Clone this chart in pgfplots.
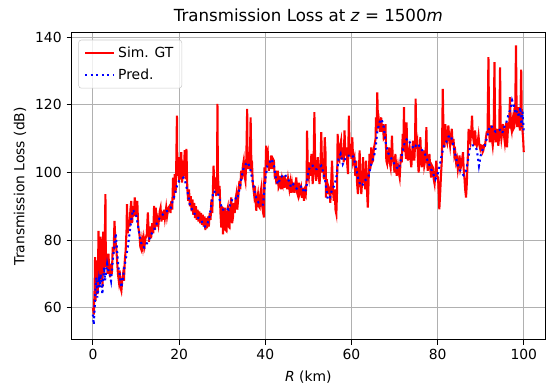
\documentclass[border=0pt]{standalone}
\usepackage{fontspec}
\setmainfont{DejaVu Sans}
\usepackage{pgfplots}
\pgfplotsset{compat=1.18}
\definecolor{gridgray}{HTML}{B0B0B0}
\definecolor{legendedge}{HTML}{CCCCCC}
\begin{document}
\begin{tikzpicture}
\path[use as bounding box] (-51.4pt,-31.1pt) rectangle (341.7pt,244.7pt);
\begin{axis}[
  scale only axis, width=341.2pt, height=221.1pt,
  at={(0pt,0pt)}, anchor=south west,
  xmin=-5, xmax=105, ymin=50.5, ymax=141.3,
  xtick={0,20,...,100}, ytick={60,80,...,140},
  tick pos=left, tick align=outside, major tick length=3.5pt,
  every tick/.style={black, line width=0.8pt},
  axis line style={line width=0.8pt},
  grid=major, major grid style={gridgray, line width=0.8pt},
  tick label style={font=\fontsize{10}{12}\selectfont},
  /pgf/number format/assume math mode=true,
  label style={font=\fontsize{10}{12}\selectfont},
  xlabel={\textit{R} (km)},
  ylabel={Transmission Loss (dB)},
  x label style={at={(axis description cs:0.5,-0.121)}, anchor=center},
  y label style={at={(axis description cs:-0.1085,0.5)}, anchor=center},
  every axis title shift=0pt,
  title={Transmission Loss at \textit{z} = 1500\textit{m}},
  title style={font=\fontsize{12}{14}\selectfont, at={(axis description cs:0.5,1.0576)}, anchor=center},
  legend cell align=left,
  legend style={at={(axis description cs:0,1)}, xshift=5pt, yshift=-5pt, anchor=north west,
    draw=legendedge, rounded corners=2pt, fill=white, fill opacity=0.8, text opacity=1,
    font=\fontsize{10}{12}\selectfont, row sep=2.5pt, inner xsep=4pt, inner ysep=3pt},
  legend image code/.code={\draw[#1] (0pt,0pt) -- (21pt,0pt);},
]
% simulated ground truth
\addplot[red, line width=1.5pt] coordinates {
(0,60)(0.2,58)(0.4,66)(0.5,75)(0.6,62)(0.8,70)(1,74)(1.1,64)(1.3,82.7)(1.4,66)(1.6,72)(1.8,81)(1.9,68)(2.1,74)(2.2,66)(2.4,82.5)(2.5,70)(2.7,74)(2.9,93.6)(3,72)(3.2,76)(3.4,70)(3.6,76)(3.8,71)(4,69)(4.2,73)(4.4,70)(4.6,78)(4.8,76)(5,85.7)(5.2,80)(5.4,78)(5.6,74)(5.8,70)(6,68)(6.2,71)(6.4,66)(6.6,65)(6.8,68)(7,70)(7.2,68)(7.4,74)(7.6,77)(7.8,83)(7.9,90.6)(8.1,82)(8.3,86)(8.5,84)(8.7,89)(8.9,91.6)(9.1,85)(9.3,90)(9.5,87)(9.7,92.6)(9.9,87)(10.1,90)(10.3,91.6)(10.5,84)(10.8,81.7)(11,78)(11.2,77.3)(11.4,80)(11.6,78)(11.8,80.5)(12,78.5)(12.2,80.5)(12.5,81.7)
(12.75,88.2)(13,79.5)(13.25,84)(13.5,80.5)(13.75,85)(14,82)(14.2,90.1)(14.4,83)(14.6,89.6)(14.8,84)(15,86)(15.2,84.5)(15.5,88.5)(15.7,89.6)(15.9,85.5)(16.1,88.5)(16.3,86)(16.5,89)(16.7,86.5)(17,89.6)(17.2,87)(17.5,89.5)(17.8,90.1)(18,88)(18.2,91.6)(18.4,89)(18.6,98.5)(18.8,92)(19,99.5)(19.2,94)(19.35,103.5)(19.5,116.8)(19.6,99)(19.8,103.5)(20,97)(20.1,104.5)(20.3,98)(20.5,106)(20.7,97)(20.9,103.5)(21.1,99)(21.3,106.6)(21.5,98)(21.7,107)(21.9,95.6)(22.1,91.6)(22.3,95)(22.5,90)(22.7,93)(22.9,88.5)(23.1,92)(23.3,87.5)(23.5,91)(23.7,86.5)(23.9,90)(24.1,86)(24.3,89)(24.5,85.5)(24.7,88.5)(24.9,85)(25.1,88)(25.3,84.5)(25.5,87.5)(25.7,84)(25.9,87)
(26.1,83)(26.3,86.5)(26.5,83.5)(26.7,87)(26.9,84)(27.1,88)(27.3,86)(27.5,92)(27.7,88)(28,102)(28.2,95)(28.4,98.5)(28.6,93)(28.8,97)(28.9,120.3)(29,100)(29.2,93.6)(29.4,96)(29.6,88)(29.8,83.7)(30,90)(30.2,81.7)(30.4,88)(30.6,89.6)(30.8,83)(31,82.7)(31.2,89)(31.3,89.6)(31.5,84)(31.7,83.7)(31.9,90)(32.1,92.6)(32.3,85)(32.5,86.7)(32.7,91)(32.9,88)(33.1,92)(33.3,93.6)(33.5,89)(33.7,92)(34,97.5)(34.2,95)(34.4,100.5)(34.6,98)(34.8,102)(35,103.5)(35.2,99)(35.4,97.5)(35.6,104)(35.8,118.8)(35.9,102)(36,101)(36.2,105.5)(36.4,101)(36.6,116.3)(36.8,100)(36.9,103.5)(37.1,97)(37.4,93.6)(37.6,96)(37.9,88.7)(38.1,92)(38.3,93.6)(38.5,90)(38.7,89.6)(38.9,94)(39.1,95.6)(39.3,90)(39.5,88.2)(39.7,86.7)(39.8,101.5)(40,97)(40.2,107.9)
(40.4,104)(40.6,105.5)(40.8,100.5)(41,103.5)(41.2,101)(41.4,105)(41.6,101)(41.8,104)(42,103.5)(42.2,99)(42.4,99.5)(42.6,96.5)(42.9,100.5)(43.1,95.5)(43.3,96.1)(43.5,99)(43.7,95)(43.9,98)(44.1,96.6)(44.3,99)(44.5,95.5)(44.7,98)(44.9,97.5)(45.1,95)(45.3,98)(45.6,95.1)(45.8,97)(46,94)(46.2,96.5)(46.4,94.1)(46.6,97)(46.8,94)(47,96.5)(47.2,98.5)(47.4,94)(47.6,93.1)(47.8,97)(48,94)(48.3,95.6)(48.5,92.5)(48.7,95.5)(49,91.6)(49.2,94.5)(49.4,93.6)(49.6,98)(49.7,112.4)(49.9,100)(50.1,98.5)(50.3,103)(50.5,99)(50.7,105.5)(50.9,100)(51,96.6)(51.2,101)(51.4,117.8)(51.6,101)(51.8,97.5)(52,102)(52.2,104.5)(52.4,99)(52.6,96.6)(52.8,101)(53,111.9)(53.2,100)(53.4,103.5)(53.6,98)(53.8,110.4)(54,105.5)(54.1,92.6)
(54.3,98)(54.4,93.6)(54.6,96)(54.9,94.6)(55.1,91)(55.3,97)(55.5,103.5)(55.7,95)(55.9,91.6)(56.1,95)(56.3,89)(56.5,87.7)(56.65,94)(56.8,111.4)(57,104)(57.2,103.5)(57.4,108)(57.6,109.4)(57.8,104)(58,107.4)(58.2,103)(58.4,112.4)(58.6,105)(58.8,107.4)(59,103)(59.2,99.5)(59.4,116.8)(59.6,105)(59.8,108.4)(60,104)(60.2,110.4)(60.4,103)(60.7,104.5)(60.9,99)(61.1,103.5)(61.3,97)(61.5,93.6)(61.7,99)(61.9,106.5)(62.1,97)(62.3,93.6)(62.5,98)(62.7,104.5)(62.9,97)(63,98.5)(63.2,95)(63.4,103.5)(63.6,95)(63.8,89.6)(64,98)(64.2,105.5)(64.4,101)(64.6,107.4)(64.8,103)(65,103.5)(65.2,107)(65.4,108.4)(65.6,110)(65.7,116.3)(65.85,112)(66,123.7)(66.2,113)(66.4,114.8)(66.6,112)(66.9,116.3)(67.1,112)(67.3,114.3)(67.5,110)(67.7,110.4)(67.9,114.3)(68.1,103.5)
(68.3,102.5)(68.5,105)(68.7,107.4)(68.9,103)(69.1,101.5)(69.25,105)(69.4,110.9)(69.6,104)(69.8,102.5)(70,100)(70.2,105.5)(70.4,101)(70.5,99)(70.8,102)(71,100)(71.2,98.5)(71.35,102)(71.5,105.5)(71.7,103)(71.9,111.4)(72.05,108)(72.2,119.3)(72.35,106)(72.5,108.4)(72.65,104)(72.8,114.8)(72.95,106)(73.1,103.5)(73.3,106)(73.5,107.4)(73.7,104)(73.9,101.5)(74.1,106)(74.3,109.4)(74.45,105)(74.6,103.5)(74.75,108)(74.9,121.8)(75.1,107)(75.3,108.4)(75.45,103)(75.6,100)(75.8,105)(76,110.4)(76.15,105)(76.3,101.5)(76.5,104)(76.7,106.5)(76.9,102)(77.1,103.5)(77.25,107)(77.4,113.4)(77.55,104)(77.7,100.5)(77.9,103)(78.1,105.5)(78.3,101)(78.5,98.5)(78.7,102)(78.9,101.5)(79.1,98)(79.3,96.6)(79.5,100)(79.7,103.5)(79.9,99)(80.1,98.5)(80.3,93)(80.4,89.1)(80.6,94)(80.8,99.5)(81,104)(81.2,124.7)(81.4,110)(81.6,107.4)(81.8,114.3)(82,110)
(82.2,108.9)(82.5,113.9)(82.7,110)(82.9,107.9)(83.1,111)(83.3,112.9)(83.5,108)(83.7,109.9)(83.9,105)(84.1,106)(84.3,103)(84.5,104)(84.7,101)(84.9,103)(85.1,105)(85.3,101)(85.5,102)(85.7,104)(85.9,106)(86.05,101)(86.2,99)(86.4,95)(86.6,92.6)(86.75,96)(86.9,101)(87.05,106)(87.2,112.9)(87.4,110)(87.6,108.9)(87.8,112)(88,116.8)(88.15,111)(88.3,109.9)(88.5,108)(88.7,112.4)(88.9,109)(89.1,107.9)(89.3,109)(89.5,110.9)(89.7,108)(89.9,106.9)(90.1,108)(90.3,107.9)(90.45,106)(90.6,106.4)(90.8,108)(91,107.9)(91.2,110)(91.4,111.9)(91.6,112)(91.8,134.1)(91.95,113)(92.1,108.9)(92.25,111)(92.4,113.9)(92.6,110)(92.8,107.9)(93,111)(93.2,132.6)(93.35,112)(93.5,108.9)(93.65,111)(93.8,112.9)(93.95,110)(94.1,107.9)(94.3,111)(94.5,131.1)(94.65,112)(94.8,109.9)(95,112)(95.2,114.3)(95.4,111)(95.6,108.9)(95.8,112)(95.95,114.8)
(96.1,107.4)(96.25,111)(96.4,114.8)(96.6,113)(96.8,122.3)(97,114)(97.2,112.4)(97.35,115)(97.5,116.3)(97.65,113)(97.8,113.4)(98,117)(98.2,137.6)(98.35,116)(98.5,113.4)(98.7,117)(98.9,119.3)(99,115)(99.1,112.4)(99.25,118)(99.4,130.4)(99.55,116)(99.7,112.4)(99.85,110)(100,106)
};
\addlegendentry{Sim. GT}
% model prediction
\addplot[blue, line width=1.5pt, dash pattern=on 1.5pt off 2.475pt] coordinates {
(0,58)(0.2,55)(0.4,60)(0.6,66)(0.8,69)(1,63)(1.2,65)(1.4,68)(1.6,66)(1.8,70)(2,67)(2.2,64)(2.4,69)(2.6,72)(2.8,68)(3,70)(3.3,73)(3.6,71)(3.9,70)(4.2,68)(4.6,74)(5,79)(5.3,82)(5.6,77)(5.9,72)(6.2,70)(6.6,66)(7,69)(7.3,72)(7.7,75)(8.1,78)(8.5,82)(8.9,86)(9.3,89)(9.7,88)(10.1,87)(10.5,84)(11,80)(11.5,78)(12,77.8)(12.5,79)(13,80)(13.5,81.7)(14,82.5)(14.5,84)(15,85.5)(15.5,86.5)(16,87.2)(16.5,88)(17,88.5)(17.5,88.7)(18,89.3)(18.5,91.5)(19,93.6)(19.5,96)(20,97.5)(20.5,98)(21,98.5)(21.5,97)(22,94)(22.5,90.5)(23,89)(23.5,88)(24,87)(24.5,86.5)(25,86)(25.5,85)(26,84)(26.5,84.5)(27,86.5)(27.5,90.6)(28,94.5)(28.5,94)(29,94)(29.5,91.5)(30,89)(30.5,89)(31,89.5)(31.5,89)(32,91)(32.5,92.5)(33,92.5)(33.5,92)(34,95)(34.5,98.5)(35,101.5)(35.5,102.5)(36,103)(36.5,101)(37,98)(37.5,94.5)(38,92)(38.5,91)(39,90.5)(39.5,90.5)(40,98)(40.5,102)(41,103)(41.5,104)(42,102)(42.5,98)(43,96.5)(43.5,98.5)(44,99)(44.5,99.5)(45,98.5)(45.5,97.5)(46,95.6)(46.5,96.5)(47,95.5)(47.5,95)(48,95.5)(48.5,96)(49,94)(49.5,95)(50,100.5)(50.5,102)(51,102)(51.5,101)(52,101)(52.5,101.5)(53,102)(53.5,100)(54,97)(54.5,92)(55,92.5)(55.5,95)(56,96)(56.5,98.5)(57,104)(57.5,105.5)(58,102.5)(58.5,104)(59,105)(59.5,105)(60,105.3)(60.5,104.5)(61,102)(61.5,98.5)(62,96.5)(62.5,96)(63,97.5)(63.5,98)(64,99)(64.5,102)(65,104)(65.5,106)(66,112)(66.5,114.8)(67,115.8)(67.5,113.4)(68,108.5)(68.5,105.8)(69,104.8)(69.5,103.5)(70,102.5)(70.5,101.5)(71,101)(71.5,104)(72,107)(72.5,109.4)(73,110)(73.5,109)(74,108)(74.5,107)(75,108)(75.5,108.5)(76,107)(76.5,106.5)(77,105.7)(77.5,104)(78,102.5)(78.5,101)(79,99.5)(79.5,98)(80,99.5)(80.5,102)(81,105.5)(81.5,108)(82,109)(82.5,110.5)(83,111)(83.5,109)(84,106)(84.5,103)(85,101)(85.5,100)(86,99.2)(86.5,100)(87,103)(87.5,107.5)(88,108)(88.5,108)(89,107)(89.3,105)(89.6,102)(90,105)(90.5,107)(91,108)(91.5,110.5)(92,113.4)(92.5,113.8)(93,112.6)(93.5,112)(94,112.4)(94.5,112.6)(95,111.6)(95.5,113.5)(96,115)(96.5,117.3)(97,119)(97.3,121.3)(97.7,119.8)(98.1,117.3)(98.5,118.3)(98.9,116.3)(99.2,119.3)(99.5,113.4)(99.7,118)(99.9,114)(100,111.4)
};
\addlegendentry{Pred.}
\end{axis}
\end{tikzpicture}
\end{document}
